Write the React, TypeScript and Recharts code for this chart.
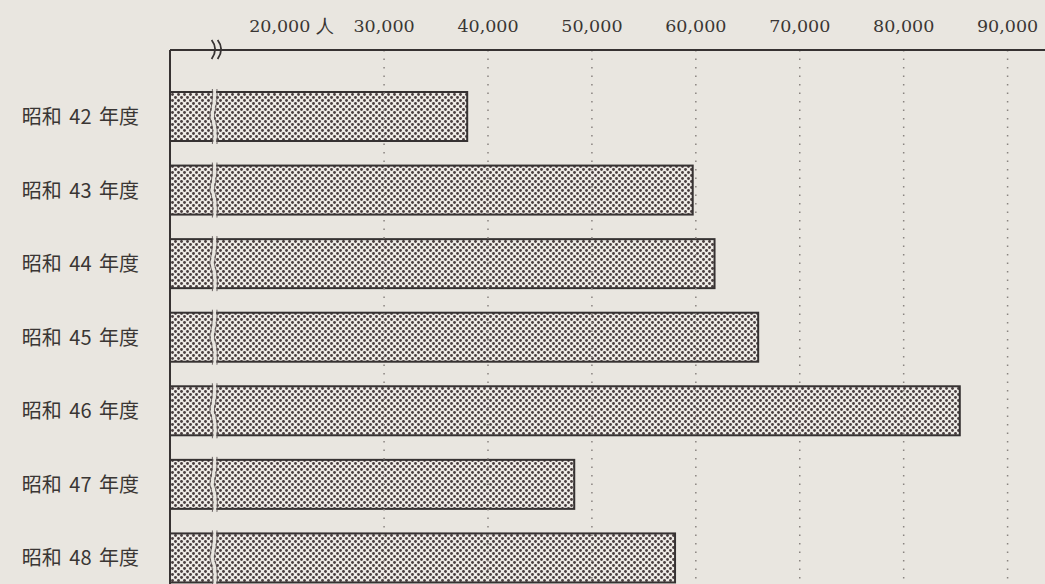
import React from 'react';
import { BarChart, Bar, XAxis, YAxis, ReferenceLine, Customized } from 'recharts';

const categories = ['昭和 42 年度', '昭和 43 年度', '昭和 44 年度', '昭和 45 年度', '昭和 46 年度', '昭和 47 年度', '昭和 48 年度'];
const visitors = [38000, 59700, 61800, 66000, 85400, 48300, 58000];
const tickValues = [20000, 30000, 40000, 50000, 60000, 70000, 80000, 90000];
const tickLabels = ['20,000 人', '30,000', '40,000', '50,000', '60,000', '70,000', '80,000', '90,000'];
const gridValues = [30000, 40000, 50000, 60000, 70000, 80000, 90000];
const X_MIN = 9400;
const X_MAX = 93600;
const BREAK_VALUE = 13600;

const data = categories.map((name, i) => ({ name, value: visitors[i] }));

const W = 1045;
const H = 595;
const LEFT = 170;
const TOP = 50;
const BG = '#e9e6e0';
const INK = '#363232';

const XTick = (props: any) => {
  const { x, payload } = props;
  const idx = tickValues.indexOf(payload.value);
  const label = idx >= 0 ? tickLabels[idx] : String(payload.value);
  const first = idx === 0;
  return (
    <text
      x={first ? x - 31 : x}
      y={32}
      textAnchor={first ? 'start' : 'middle'}
      fontFamily="DejaVu Serif"
      fontSize={17.5}
      fill="#3a3634"
    >
      {label}
    </text>
  );
};

const YTick = (props: any) => {
  const { y, payload } = props;
  return (
    <text
      x={139}
      y={y}
      dy="0.36em"
      textAnchor="end"
      fontFamily="'Noto Sans CJK JP'"
      fontSize={20}
      wordSpacing={3}
      fill="#3a3634"
    >
      {payload.value}
    </text>
  );
};

const BreakBar = (props: any) => {
  const { x, y, width, height, payload } = props;
  const v = payload.value;
  const bx = x + (width * (BREAK_VALUE - X_MIN)) / (v - X_MIN);
  const path = `M ${bx + 1} ${y - 3} C ${bx + 2} ${y + height * 0.3}, ${bx - 3} ${y + height * 0.45}, ${bx - 1} ${y + height * 0.55} S ${bx + 2} ${y + height * 0.85}, ${bx + 1} ${y + height + 3}`;
  return (
    <g>
      <rect x={x} y={y} width={width} height={height} fill="url(#dotfill)" stroke={INK} strokeWidth={2} />
      <path d={path} fill="none" stroke={BG} strokeWidth={3} />
      <path d={path} transform="translate(-2.3,0)" fill="none" stroke="#5a5252" strokeWidth={0.9} />
      <path d={path} transform="translate(2.3,0)" fill="none" stroke="#5a5252" strokeWidth={0.9} />
    </g>
  );
};

const AxisBreak = () => {
  const bx = LEFT + ((BREAK_VALUE - X_MIN) / (X_MAX - X_MIN)) * (W - LEFT) + 2;
  return (
    <g>
      <rect x={bx - 2} y={TOP - 2} width={7} height={4} fill={BG} />
      <path d={`M ${bx - 4} ${TOP - 10} Q ${bx + 3} ${TOP - 1}, ${bx - 4} ${TOP + 9}`} fill="none" stroke={INK} strokeWidth={1.8} />
      <path d={`M ${bx + 2} ${TOP - 10} Q ${bx + 9} ${TOP - 1}, ${bx + 2} ${TOP + 9}`} fill="none" stroke={INK} strokeWidth={1.8} />
    </g>
  );
};

export default function App() {
  return (
    <div style={{ position: 'absolute', left: 0, top: 0, width: 1045, height: 584, overflow: 'hidden', background: BG }}>
      <svg width={0} height={0} style={{ position: 'absolute' }}>
        <defs>
          <pattern id="dotfill" width={6} height={6} patternUnits="userSpaceOnUse">
            <rect width={6} height={6} fill="#eeebe6" />
            <circle cx={1.5} cy={1.5} r={1.45} fill="#4a3f40" />
            <circle cx={4.5} cy={4.5} r={1.45} fill="#4a3f40" />
          </pattern>
        </defs>
      </svg>
      <BarChart
        width={W}
        height={H}
        data={data}
        layout="vertical"
        margin={{ top: 0, right: 0, bottom: 0, left: 0 }}
        barCategoryGap={0}
      >
        <XAxis
          type="number"
          orientation="top"
          domain={[X_MIN, X_MAX]}
          ticks={tickValues}
          allowDataOverflow
          height={TOP}
          tickLine={false}
          axisLine={{ stroke: INK, strokeWidth: 2 }}
          tick={<XTick />}
          interval={0}
        />
        <YAxis
          type="category"
          dataKey="name"
          width={LEFT}
          padding={{ top: 30, bottom: 0 }}
          tickLine={false}
          axisLine={{ stroke: INK, strokeWidth: 2 }}
          tick={<YTick />}
          interval={0}
        />
        {gridValues.map((g) => (
          <ReferenceLine key={g} x={g} stroke="#8a8480" strokeWidth={1.5} strokeDasharray="1.5 7" />
        ))}
        <Bar dataKey="value" barSize={49} shape={<BreakBar />} isAnimationActive={false} />
        <Customized component={<AxisBreak />} />
      </BarChart>
    </div>
  );
}
